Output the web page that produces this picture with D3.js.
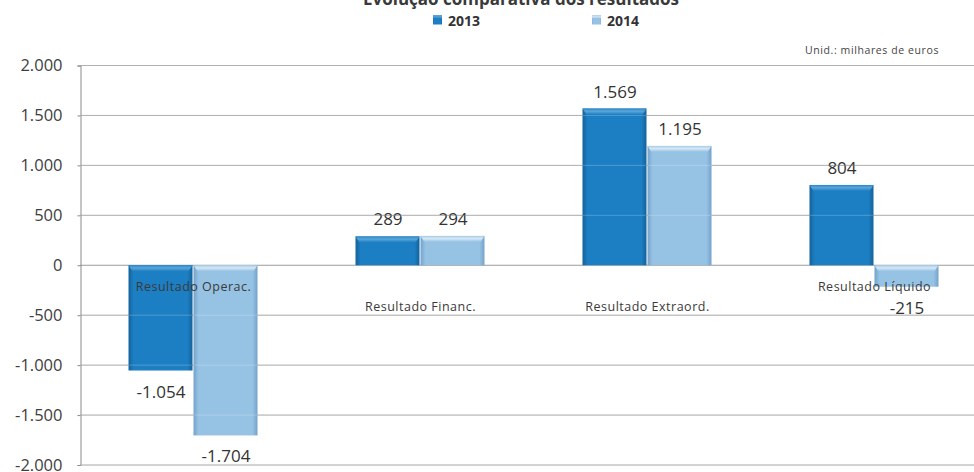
<!DOCTYPE html>
<html>
<head>
<meta charset="utf-8">
<script src="https://cdn.jsdelivr.net/npm/d3@7"></script>
<style>
  body { margin: 0; background: #fff; }
  svg { display: block; }
  text { font-family: "Open Sans", "Liberation Sans", sans-serif; }
</style>
</head>
<body>
<script>
// Results by type, thousands of euros
const categories = ["Resultado Operac.", "Resultado Financ.", "Resultado Extraord.", "Resultado Líquido"];
const years = ["2013", "2014"];
const values2013 = [-1054, 289, 1569, 804];
const values2014 = [-1704, 294, 1195, -215];
const yTicks = [-2000, -1500, -1000, -500, 0, 500, 1000, 1500, 2000];
const chartTitle = "Evolução comparativa dos resultados";
const unitNote = "Unid.: milhares de euros";

const W = 974, H = 472;
const pt = d3.formatLocale({ decimal: ",", thousands: ".", grouping: [3], currency: ["", " €"], minus: "-" });
const fmt = pt.format(",d");

const rows = categories.map((c, i) => ({ cat: c, vals: [values2013[i], values2014[i]] }));

const svg = d3.select("body").append("svg").attr("width", W).attr("height", H);

const x = d3.scaleBand().domain(categories).range([80, 988]).paddingInner(0.4273).paddingOuter(0.2137);
const xs = d3.scaleBand().domain(years).range([0, x.bandwidth()]);
const y = d3.scaleLinear().domain([-2000, 2000]).range([465, 65.5]);

// gradients for the bevelled bars
const defs = svg.append("defs");
const palette = {
  "2013": { edge: "#13629a", mid: "#1d7fc3", top: "#5aa6da", topEdge: "#2c86c4" },
  "2014": { edge: "#74a2cb", mid: "#96c2e4", top: "#d4e8f6", topEdge: "#a9cbe6" }
};
years.forEach(yr => {
  const p = palette[yr];
  const g = defs.append("linearGradient").attr("id", "body" + yr).attr("x1", 0).attr("x2", 1).attr("y1", 0).attr("y2", 0);
  g.append("stop").attr("offset", "0%").attr("stop-color", p.edge);
  g.append("stop").attr("offset", "8%").attr("stop-color", p.mid);
  g.append("stop").attr("offset", "92%").attr("stop-color", p.mid);
  g.append("stop").attr("offset", "100%").attr("stop-color", p.edge);
  const t = defs.append("linearGradient").attr("id", "top" + yr).attr("x1", 0).attr("x2", 0).attr("y1", 0).attr("y2", 1);
  t.append("stop").attr("offset", "0%").attr("stop-color", p.topEdge);
  t.append("stop").attr("offset", "45%").attr("stop-color", p.top);
  t.append("stop").attr("offset", "100%").attr("stop-color", p.mid);
});

// title, running off the top edge
svg.append("text")
  .attr("x", 521).attr("y", 5)
  .attr("text-anchor", "middle")
  .attr("font-size", 17).attr("font-weight", "bold")
  .attr("fill", "#3a3a3a")
  .text(chartTitle);

// legend
const legendX = [433, 592];
years.forEach((yr, i) => {
  const lg = svg.append("g").attr("transform", `translate(${legendX[i]},15)`);
  lg.append("rect").attr("width", 9).attr("height", 9).attr("y", 0.5).attr("fill", `url(#body${yr})`);
  lg.append("rect").attr("width", 9).attr("height", 3).attr("y", 0.5).attr("fill", `url(#top${yr})`);
  lg.append("text").attr("x", 15).attr("y", 10.5)
    .attr("font-size", 14).attr("font-weight", "bold").attr("fill", "#333")
    .text(yr);
});

// unit note
svg.append("text")
  .attr("x", 872).attr("y", 54)
  .attr("text-anchor", "middle")
  .attr("font-size", 10.5).attr("letter-spacing", 0.6).attr("fill", "#444")
  .text(unitNote);

// gridlines
svg.append("g").selectAll("line").data(yTicks).join("line")
  .attr("x1", 80).attr("x2", W)
  .attr("y1", d => y(d)).attr("y2", d => y(d))
  .attr("stroke", "#9c9c9c").attr("stroke-width", 1);

// y axis
const yAxis = svg.append("g").attr("transform", "translate(80.5,0)")
  .call(d3.axisLeft(y).tickValues(yTicks).tickSize(3).tickPadding(15).tickFormat(fmt));
yAxis.select(".domain").attr("stroke", "#8a8a8a");
yAxis.selectAll(".tick line").attr("stroke", "#8a8a8a");
yAxis.selectAll(".tick text")
  .attr("font-size", 16.5).attr("fill", "#404040")
  .attr("font-family", "\"Open Sans\", sans-serif");

// bars
const groups = svg.append("g").selectAll("g").data(rows).join("g")
  .attr("transform", d => `translate(${x(d.cat)},0)`);

const bars = groups.selectAll("g.bar")
  .data(d => d.vals.map((v, i) => ({ yr: years[i], v })))
  .join("g").attr("class", "bar");

bars.append("rect")
  .attr("x", d => xs(d.yr))
  .attr("width", xs.bandwidth() - 1)
  .attr("y", d => Math.min(y(d.v), y(0)))
  .attr("height", d => Math.abs(y(d.v) - y(0)))
  .attr("fill", d => `url(#body${d.yr})`);

// bevel strip along the top edge of each bar
bars.append("path")
  .attr("d", d => {
    const x0 = xs(d.yr), x1 = x0 + xs.bandwidth() - 1;
    const top = Math.min(y(d.v), y(0));
    const h = Math.min(6, Math.abs(y(d.v) - y(0)));
    return `M${x0},${top}L${x1},${top}L${x1 - 4},${top + h}L${x0 + 4},${top + h}Z`;
  })
  .attr("fill", d => `url(#top${d.yr})`);

// faint gridline sheen across bars
svg.append("g").selectAll("line").data(yTicks.filter(t => t !== 0)).join("line")
  .attr("x1", 80).attr("x2", W)
  .attr("y1", d => y(d)).attr("y2", d => y(d))
  .attr("stroke", "#ffffff").attr("stroke-opacity", 0.22).attr("stroke-width", 1);

// value labels
bars.append("text")
  .attr("x", d => xs(d.yr) + xs.bandwidth() / 2)
  .attr("y", d => d.v >= 0 ? y(d.v) - 11 : y(d.v) + 27)
  .attr("text-anchor", "middle")
  .attr("font-size", 17).attr("fill", "#333")
  .text(d => fmt(d.v));

// category labels along the zero line
groups.append("text")
  .attr("x", x.bandwidth() / 2)
  .attr("y", d => y(0) + (d3.min(d.vals) < 0 ? 26 : 46))
  .attr("text-anchor", "middle")
  .attr("font-size", 12.5).attr("letter-spacing", 0.5).attr("fill", "#3a3a3a")
  .text(d => d.cat);
</script>
</body>
</html>
